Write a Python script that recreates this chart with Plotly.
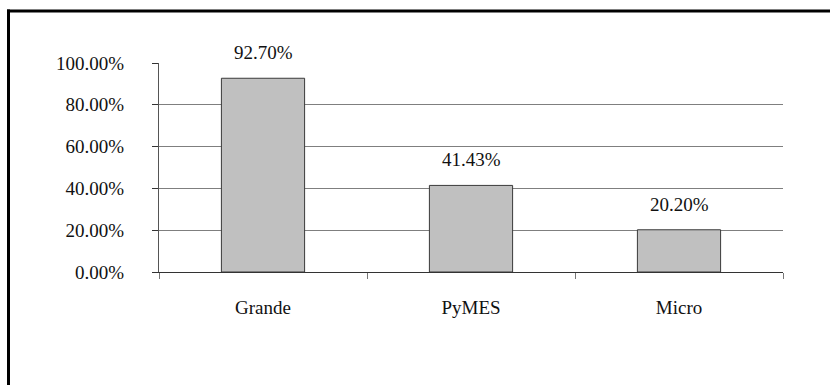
import plotly.graph_objects as go

# Share of firms by size class
categories = ["Grande", "PyMES", "Micro"]
shares = [0.9270, 0.4143, 0.2020]
label_texts = ["92.70%", "41.43%", "20.20%"]
y_ticks = [0, 0.2, 0.4, 0.6, 0.8, 1.0]
y_tick_labels = ["0.00%", "20.00%", "40.00%", "60.00%", "80.00%", "100.00%"]

FONT = "Liberation Serif, Times New Roman, serif"
FS = 19
W, H = 830, 385
L, R, T, B = 159, 47, 63, 113
pw, ph = W - L - R, H - T - B

fig = go.Figure(
    go.Bar(
        x=categories,
        y=shares,
        marker=dict(color="#C0C0C0", line=dict(color="#3a3a3a", width=1)),
        width=0.4,
        hoverinfo="skip",
    )
)

# Value labels above each bar
for cat, val, txt in zip(categories, shares, label_texts):
    fig.add_annotation(
        x=cat, y=val, text=txt, showarrow=False,
        yanchor="bottom", yshift=13,
        font=dict(family=FONT, size=FS, color="#111111"),
    )

# Frame lines (top and left edges)
def px_x(px):
    return (px - L) / pw

def px_y(py):
    return (H - B - py) / ph

fig.add_shape(type="line", xref="paper", yref="paper",
              x0=px_x(7), x1=px_x(832), y0=px_y(11), y1=px_y(11),
              line=dict(color="black", width=3))
fig.add_shape(type="line", xref="paper", yref="paper",
              x0=px_x(8.5), x1=px_x(8.5), y0=px_y(9.5), y1=px_y(390),
              line=dict(color="black", width=3))

fig.update_layout(
    width=W, height=H,
    margin=dict(l=L, r=R, t=T, b=B),
    paper_bgcolor="white",
    plot_bgcolor="white",
    showlegend=False,
    font=dict(family=FONT, size=FS, color="#111111"),
    bargap=0.6,
)

fig.update_yaxes(
    range=[0, 1.0],
    tickvals=y_ticks,
    ticktext=y_tick_labels,
    showgrid=True, gridcolor="#7f7f7f", gridwidth=1,
    showline=True, linecolor="#555555", linewidth=1,
    ticks="outside", ticklen=6, tickcolor="#333333",
    ticklabelstandoff=24,
    zeroline=False,
    tickfont=dict(family=FONT, size=FS, color="#111111"),
)

fig.update_xaxes(
    tickson="boundaries",
    showline=True, linecolor="#333333", linewidth=1,
    ticks="outside", ticklen=6, tickcolor="#777777",
    ticklabelstandoff=18,
    showgrid=False,
    tickfont=dict(family=FONT, size=FS, color="#111111"),
)

fig.write_html("out.html")
